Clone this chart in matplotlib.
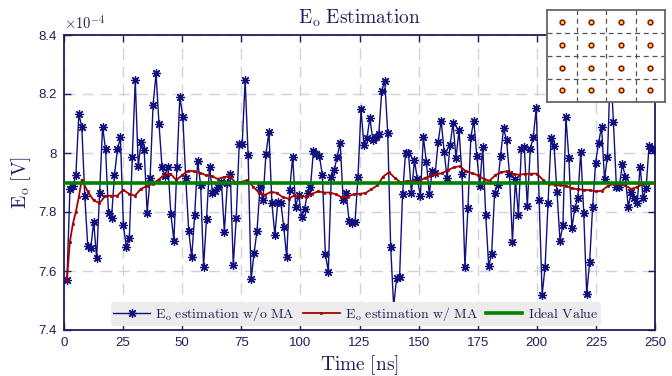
import numpy as np
import matplotlib
matplotlib.use("Agg")
import matplotlib.pyplot as plt

plt.rcParams['mathtext.fontset'] = 'cm'
plt.rcParams['font.family'] = ['Liberation Sans', 'DejaVu Sans']

# ---- data (values in units of 1e-4 V) ----
blue_vals = [
    7.570, 7.877, 7.888, 7.925, 8.132, 8.089, 7.855, 7.685, 7.677, 7.766,
    7.643, 7.866, 8.089, 8.012, 7.795, 7.779, 7.925, 8.012, 8.053, 7.756,
    7.680, 7.711, 7.985, 8.247, 7.956, 8.038, 8.010, 7.798,
    7.914, 8.163, 8.270, 8.097, 7.954, 7.922, 7.954, 7.793, 7.703, 7.951,
    8.191, 8.123, 7.914, 7.737, 7.646, 7.790, 7.973, 7.892, 7.615, 7.777,
    7.954, 7.866, 7.872, 7.884, 7.903, 7.733, 7.897, 7.929, 7.620, 7.779,
    8.031, 8.031, 8.247, 7.993, 7.572, 7.660, 7.737, 7.884, 7.841, 7.997,
    8.072, 7.832, 7.722, 7.835, 7.832, 7.748, 7.646, 7.875, 7.988, 7.818,
    7.858, 7.784, 7.809, 7.866, 7.886, 8.008, 7.997,
    7.990, 7.925, 7.658, 7.598, 7.920, 7.942, 7.988, 8.035, 7.841, 7.863,
    7.771, 7.764, 7.767, 7.920, 8.148, 8.027, 8.050, 8.118, 8.044, 8.053,
    8.064, 8.211, 8.245, 8.069, 7.682, 7.481, 7.575, 7.581, 7.861, 7.999,
    8.001, 7.863, 7.976, 7.911, 7.854, 8.055, 7.971, 7.861, 7.940, 7.931,
    8.038, 8.110, 8.005, 7.914, 8.027, 8.101, 7.982, 8.078, 7.929, 7.615,
    7.812, 8.055, 8.110, 7.990, 7.888, 8.021, 7.790, 7.617,
    7.658, 7.866, 7.892, 7.990, 8.084, 8.044, 7.930, 7.699, 7.911, 7.790,
    8.012, 8.019, 7.821, 8.012, 8.053, 8.151, 7.841, 7.519, 7.615, 7.829,
    8.050, 8.024, 7.869, 7.703, 7.756, 8.121, 7.982, 7.745, 7.812,
    7.846, 8.005, 7.798, 7.522, 7.632, 7.818, 7.967, 8.035, 8.089, 7.911,
    7.988, 8.300, 8.106, 7.884, 7.886, 7.963, 7.920, 7.816, 7.869, 7.846,
    7.832, 7.954, 7.846, 7.880, 8.024, 8.012, 8.010,
]
blue_t = np.linspace(1.25, 250, len(blue_vals))

red_head_t = [1.25, 2.5, 3.75, 5.0, 6.25]
red_head = [7.57, 7.70, 7.76, 7.80, 7.85]
red_rest = [
    7.910, 7.870, 7.840, 7.830, 7.855, 7.855, 7.855, 7.875, 7.862, 7.855,
    7.878, 7.888, 7.895, 7.910, 7.925, 7.930, 7.908, 7.925, 7.940, 7.938,
    7.933, 7.925, 7.922, 7.912, 7.918, 7.922, 7.900, 7.902, 7.908, 7.886,
    7.865, 7.858, 7.868, 7.865, 7.850, 7.845, 7.856, 7.853, 7.852, 7.862,
    7.870, 7.866, 7.866, 7.860, 7.850, 7.852, 7.860, 7.862, 7.864, 7.877,
    7.890, 7.920, 7.935, 7.915, 7.900, 7.905, 7.904, 7.903, 7.915, 7.922,
    7.928, 7.932, 7.942, 7.952, 7.955, 7.938, 7.932, 7.925, 7.912, 7.906,
    7.925, 7.935, 7.938, 7.930, 7.926, 7.929, 7.930, 7.930, 7.910, 7.895,
    7.892, 7.891, 7.888, 7.880, 7.877, 7.875, 7.874, 7.870, 7.872, 7.888,
    7.895, 7.895, 7.890, 7.878, 7.885, 7.895, 7.897, 7.897,
]
red_t = red_head_t + [7.5 + 2.5 * i for i in range(len(red_rest))]
red_vals = red_head + red_rest

ideal_value = 7.9

x_ticks = [0, 25, 50, 75, 100, 125, 150, 175, 200, 225, 250]
y_ticks = [7.4, 7.6, 7.8, 8.0, 8.2, 8.4]
y_ticklabels = ["7.4", "7.6", "7.8", "8", "8.2", "8.4"]

# 16-QAM constellation for inset
qam_levels = [-3, -1, 1, 3]

# ---- styling ----
navy = '#1e1e5a'
blue = '#10107f'
red = '#a50000'
green = '#008000'

fig = plt.figure(figsize=(6.72, 3.76), dpi=100)
ax = fig.add_axes([64 / 672, 1 - 330 / 376, (655 - 64) / 672, (330 - 35) / 376])

ax.plot(blue_t, blue_vals, color=blue, lw=1.0, marker=(8, 2, 0), ms=6.5, mew=0.9,
        label=r'$\mathrm{E_o\ estimation\ w/o\ MA}$', zorder=3)
ax.plot(red_t, red_vals, color=red, lw=1.3, marker='s', ms=1.6, mew=0.5,
        label=r'$\mathrm{E_o\ estimation\ w/\ MA}$', zorder=4)
ax.plot([0, 250], [ideal_value, ideal_value], color=green, lw=2.6,
        label=r'$\mathrm{Ideal\ Value}$', zorder=5)

ax.set_xlim(0, 250)
ax.set_ylim(7.4, 8.4)
ax.set_xticks(x_ticks)
ax.set_yticks(y_ticks)
ax.set_yticklabels(y_ticklabels)
ax.grid(True, color='#d2d2dc', lw=1.0, dashes=(8, 5))
ax.set_axisbelow(True)
for s in ax.spines.values():
    s.set_color(navy)
    s.set_linewidth(1.3)
ax.tick_params(direction='in', length=5, width=1.0, colors=navy, labelsize=9.5,
               top=True, right=True, pad=5)

ax.set_title(r'$\mathrm{E_o\ Estimation}$', fontsize=14, color=navy, pad=8)
ax.set_xlabel(r'$\mathrm{Time\ [ns]}$', fontsize=14, color=navy, labelpad=3)
ax.set_ylabel(r'$\mathrm{E_o\ [V]}$', fontsize=14, color=navy, labelpad=4)
ax.text(0.0, 1.012, r'$\times10^{-4}$', transform=ax.transAxes, fontsize=10.5,
        color=navy, ha='left', va='bottom', family='DejaVu Sans')

leg = ax.legend(loc='lower center', ncol=3, frameon=True, fontsize=10,
                facecolor='#ececec', edgecolor='none', framealpha=1,
                borderpad=0.2, handlelength=2.6, columnspacing=0.6,
                handletextpad=0.4, borderaxespad=0.3,
                bbox_to_anchor=(0.494, 0.0))
for t in leg.get_texts():
    t.set_color(navy)

# ---- inset constellation ----
ins = fig.add_axes([547 / 672, 1 - 102 / 376, 118 / 672, 92 / 376])
ins.set_xlim(-4, 4)
ins.set_ylim(-4, 4)
ins.set_xticks([])
ins.set_yticks([])
for g in [-2, 0, 2]:
    ins.axvline(g, color='#555555', lw=0.9, dashes=(4, 3))
    ins.axhline(g, color='#555555', lw=0.9, dashes=(4, 3))
for s in ins.spines.values():
    s.set_color('#666666')
    s.set_linewidth(1.3)
qx, qy = np.meshgrid(qam_levels, qam_levels)
ins.scatter(qx.ravel(), qy.ravel(), s=26, c='#6a6ad0', alpha=0.3, lw=0)
ins.scatter(qx.ravel(), qy.ravel(), s=11, c='#ffee00', edgecolors='#8b0000',
            linewidths=1.0, zorder=3)

fig.savefig('out.png', dpi=100)
